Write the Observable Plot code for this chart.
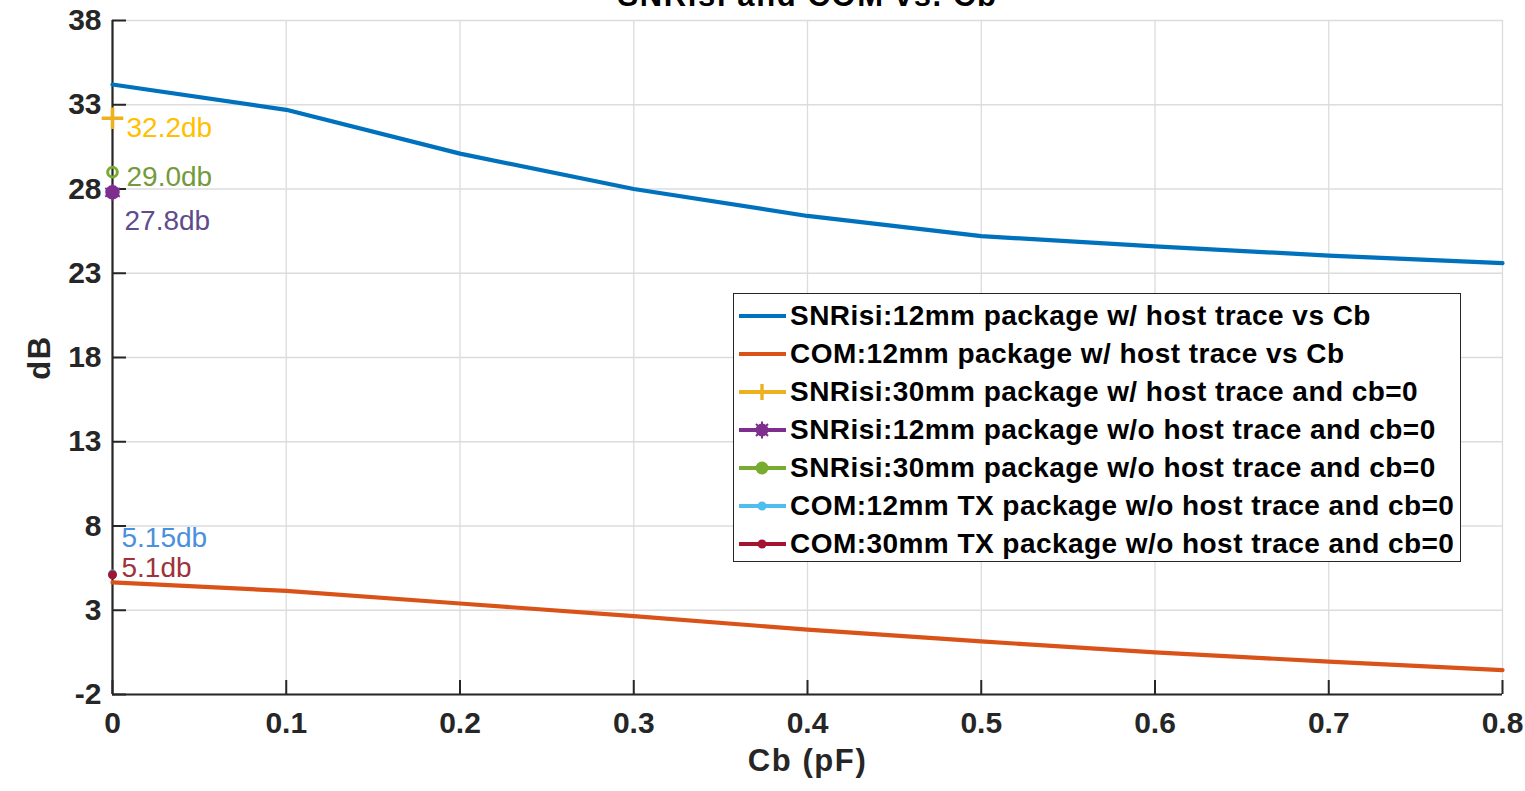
<!DOCTYPE html>
<html>
<head>
<meta charset="utf-8">
<script src="https://cdn.jsdelivr.net/npm/d3@7"></script>
<script src="https://cdn.jsdelivr.net/npm/@observablehq/plot@0.6"></script>
<style>
  html, body { margin: 0; padding: 0; background: #fff; overflow: hidden; }
  #wrap { position: relative; width: 1525px; height: 791px; font-family: "Liberation Sans", Arial, Helvetica, sans-serif; }
  #wrap svg.plot { overflow: visible; }
  #wrap svg g.wide text { letter-spacing: 1.6px; }
  #legend { position: absolute; left: 733px; top: 293px; width: 726px; height: 267px; border: 1.5px solid #262626; background: #fff; box-sizing: content-box; }
  .row { position: absolute; left: 0; height: 38px; display: flex; align-items: center; }
  .row span { font-weight: bold; font-size: 28px; letter-spacing: 0.45px; color: #000; margin-left: 0px; white-space: nowrap; }
</style>
</head>
<body>
<div id="wrap"></div>
<script>
// ---- data ----
const cb = [0, 0.1, 0.2, 0.3, 0.4, 0.5, 0.6, 0.7, 0.8];
const snrisi12Host = [34.2, 32.7, 30.1, 28.0, 26.4, 25.2, 24.6, 24.05, 23.6];
const com12Host = [4.65, 4.15, 3.4, 2.65, 1.85, 1.15, 0.5, -0.05, -0.55];

const seriesNames = [
  "SNRisi:12mm package w/ host trace vs Cb",
  "COM:12mm package w/ host trace vs Cb",
  "SNRisi:30mm package w/ host trace and cb=0",
  "SNRisi:12mm package w/o host trace and cb=0",
  "SNRisi:30mm package w/o host trace and cb=0",
  "COM:12mm TX package w/o host trace and cb=0",
  "COM:30mm TX package w/o host trace and cb=0"
];
const seriesColors = ["#0072BD", "#D95319", "#EDB120", "#7E2F8E", "#77AC30", "#4DBEEE", "#A2142F"];

// single points at Cb = 0
const pointCb = [0, 0, 0, 0, 0];
const pointValues = [32.2, 27.8, 29.0, 5.15, 5.1];
const pointLabels = ["32.2db", "27.8db", "29.0db", "5.15db", "5.1db"];
const labelColors = ["#FFC000", "#5E4C8C", "#759A3C", "#4A90DC", "#A0323A"];

const xTicks = [0, 0.1, 0.2, 0.3, 0.4, 0.5, 0.6, 0.7, 0.8];
const yTicks = [-2, 3, 8, 13, 18, 23, 28, 33, 38];

const titleText = "SNRisi and COM vs. Cb";
const xLabel = "Cb (pF)";
const yLabel = "dB";

// ---- build tables ----
const lineData = [];
cb.forEach((c, i) => lineData.push({cb: c, v: snrisi12Host[i], s: seriesNames[0]}));
cb.forEach((c, i) => lineData.push({cb: c, v: com12Host[i], s: seriesNames[1]}));
const pts = pointCb.map((c, i) => ({cb: c, v: pointValues[i], label: pointLabels[i], color: labelColors[i]}));

const font = "Liberation Sans, Arial, Helvetica, sans-serif";
const axisColor = "#262626";

const W = 1525, H = 791;
const plot = Plot.plot({
  width: W,
  height: H,
  marginLeft: 112,
  marginRight: 23,
  marginTop: 20,
  marginBottom: 97,
  style: {fontFamily: font, background: "#fff", overflow: "visible"},
  x: {domain: [0, 0.8], ticks: xTicks},
  y: {domain: [-2, 38], ticks: yTicks},
  color: {domain: seriesNames, range: seriesColors},
  marks: [
    Plot.gridX(xTicks, {stroke: "#dcdcdc", strokeOpacity: 1, strokeWidth: 1.3}),
    Plot.gridY(yTicks, {stroke: "#dcdcdc", strokeOpacity: 1, strokeWidth: 1.3}),
    // inward ticks
    Plot.tickX(xTicks, {x: d => d, stroke: axisColor, strokeWidth: 2, insetTop: 674 - 14}),
    Plot.tickY(yTicks, {y: d => d, stroke: axisColor, strokeWidth: 2, insetRight: 1390 - 14}),
    Plot.ruleX([0], {stroke: axisColor, strokeWidth: 2.2}),
    Plot.ruleY([-2], {stroke: axisColor, strokeWidth: 2.2}),
    Plot.axisX(xTicks, {tickSize: 0, tickPadding: 17, fontSize: 30, fontWeight: "bold", fill: axisColor, label: null,
      tickFormat: d => d === 0 ? "0" : String(d)}),
    Plot.axisY(yTicks, {tickSize: 0, tickPadding: 11, fontSize: 30, fontWeight: "bold", fill: axisColor, label: null,
      tickFormat: d => String(d)}),
    Plot.line(lineData, {x: "cb", y: "v", z: "s", stroke: "s", strokeWidth: 4.2}),
    // single-point markers
    Plot.dot([pts[3]], {x: "cb", y: "v", r: 4.5, fill: seriesColors[5]}),
    Plot.dot([pts[4]], {x: "cb", y: "v", r: 4.5, fill: seriesColors[6]}),
    Plot.dot([pts[0]], {x: "cb", y: "v", symbol: "plus", r: 7, stroke: seriesColors[2], strokeWidth: 3.6}),
    Plot.dot([pts[2]], {x: "cb", y: "v", r: 4.8, fill: "none", stroke: seriesColors[4], strokeWidth: 3}),
    Plot.dot([pts[1]], {x: "cb", y: "v", r: 6.5, fill: seriesColors[3], stroke: seriesColors[3], strokeWidth: 1.5}),
    Plot.dot([pts[1]], {x: "cb", y: "v", symbol: "asterisk", r: 8, stroke: seriesColors[3], strokeWidth: 2}),
    // value labels
    Plot.text([pts[0]], {x: "cb", y: "v", text: "label", fill: "color", fontSize: 28, textAnchor: "start", dx: 14, dy: 10}),
    Plot.text([pts[2]], {x: "cb", y: "v", text: "label", fill: "color", fontSize: 28, textAnchor: "start", dx: 14, dy: 5}),
    Plot.text([pts[1]], {x: "cb", y: "v", text: "label", fill: "color", fontSize: 28, textAnchor: "start", dx: 12, dy: 29}),
    Plot.text([pts[3]], {x: "cb", y: "v", text: "label", fill: "color", fontSize: 28, textAnchor: "start", dx: 9, dy: -36}),
    Plot.text([pts[4]], {x: "cb", y: "v", text: "label", fill: "color", fontSize: 28, textAnchor: "start", dx: 9, dy: -7}),
    // axis labels & title
    Plot.text([xLabel], {frameAnchor: "bottom", text: d => d, textAnchor: "middle", dy: 76, fontSize: 31, fontWeight: "bold", fill: axisColor, className: "wide"}),
    Plot.text([yLabel], {frameAnchor: "left", text: d => d, textAnchor: "middle", dx: -72, rotate: -90, fontSize: 31, fontWeight: "bold", fill: axisColor, className: "wide"}),
    Plot.text([titleText], {frameAnchor: "top", text: d => d, textAnchor: "middle", dy: -15, lineAnchor: "bottom", fontSize: 31, fontWeight: "bold", fill: "#000", className: "wide"})
  ]
});
const wrap = document.getElementById("wrap");
wrap.appendChild(plot);

// legend (inside the axes, as in the reference)
const legend = document.createElement("div");
legend.id = "legend";
const markers = [null, null, "plus", "star", "circle", "dot", "dot"];
seriesNames.forEach((name, i) => {
  const row = document.createElement("div");
  row.className = "row";
  row.style.top = (3 + i * 38) + "px";
  const c = seriesColors[i];
  let m = "";
  if (markers[i] === "plus") m = `<path d="M24,3V19M16,11H32" stroke="${c}" stroke-width="3.4"/>`;
  if (markers[i] === "star") m = `<circle cx="24" cy="11" r="6.5" fill="${c}"/><path d="M24,2.5V19.5M15.5,11H32.5M18,5L30,17M30,5L18,17" stroke="${c}" stroke-width="2"/>`;
  if (markers[i] === "circle") m = `<circle cx="24" cy="11" r="6.5" fill="${c}"/>`;
  if (markers[i] === "dot") m = `<circle cx="24" cy="11" r="4.5" fill="${c}"/>`;
  row.innerHTML = `<svg width="52" height="22" style="margin-left:4px"><line x1="1" y1="11" x2="48" y2="11" stroke="${c}" stroke-width="4.2"/>${m}</svg><span>${name}</span>`;
  legend.appendChild(row);
});
wrap.appendChild(legend);
</script>
</body>
</html>
